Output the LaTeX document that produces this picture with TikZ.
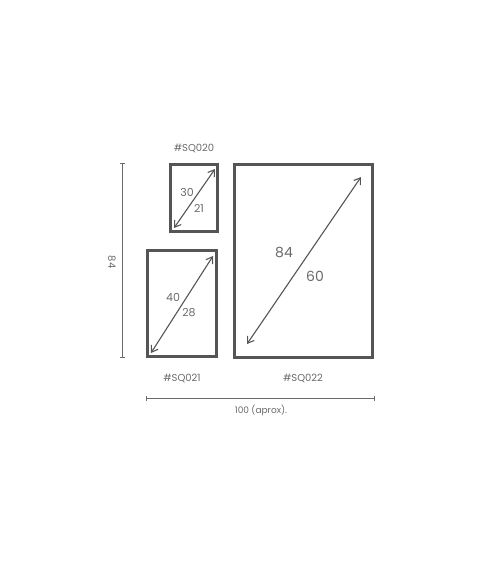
\documentclass[tikz,border=0pt]{standalone}
\usepackage{fontspec}
\setmainfont{Poppins}
\usetikzlibrary{arrows.meta}
\definecolor{boxgray}{HTML}{555555}
\definecolor{txtgray}{HTML}{6A6A6A}
\begin{document}
\begin{tikzpicture}[x=1pt,y=-1pt,
  frame/.style={draw=boxgray,line width=2.8pt,inner sep=0pt,outer sep=0pt},
  diag/.style={draw=boxgray,line width=1.1pt,{Straight Barb[length=6pt,width=8pt]}-{Straight Barb[length=6pt,width=8pt]}},
  dimline/.style={draw=txtgray,line width=0.9pt,{Bar[width=5pt]}-{Bar[width=5pt]}},
  lbl/.style={text=txtgray,font=\fontsize{9}{10}\selectfont,inner sep=0pt},
  namelbl/.style={text=txtgray,font=\fontsize{10}{11}\selectfont,inner sep=0pt},
  num/.style={text=txtgray,font=\fontsize{11}{12}\selectfont,inner sep=0pt},
  bignum/.style={text=txtgray,font=\fontsize{14}{16}\selectfont,inner sep=0pt}]
\useasboundingbox (0,0) rectangle (500,563);
% frames
\node[frame,minimum width=47pt,minimum height=67pt] (b20) at (194,198) {};
\node[frame,minimum width=69pt,minimum height=106pt] (b21) at (182,303.5) {};
\node[frame,minimum width=138pt,minimum height=193pt] (b22) at (303.5,261) {};
% arrow ends
\coordinate (a20s) at (174,228); \coordinate (a20e) at (215,169);
\coordinate (a21s) at (151,353); \coordinate (a21e) at (213,256);
\coordinate (a22s) at (247,344); \coordinate (a22e) at (361,177);
\draw[diag] (a20s) -- (a20e);
\draw[diag] (a21s) -- (a21e);
\draw[diag] (a22s) -- (a22e);
% size labels
\node[num] (t30) at (187,192) {30};
\node[num] (t21) at (199,208) {21};
\node[num] (t40) at (173,297) {40};
\node[num] (t28) at (189,313) {28};
\node[bignum] (t84) at (284,252) {84};
\node[bignum] (t60) at (315,276) {60};
% names
\node[namelbl] (n20) at (194,148) {\#SQ020};
\node[namelbl] (n21) at (182,378) {\#SQ021};
\node[namelbl] (n22) at (303,378) {\#SQ022};
% dimension lines
\coordinate (v1) at (122,163); \coordinate (v2) at (122,358);
\draw[dimline] (v1) -- (v2);
\node[namelbl,rotate=-90] (h84) at (112,262) {84};
\coordinate (h1) at (146,398); \coordinate (h2) at (375,398);
\draw[dimline] (h1) -- (h2);
\node[lbl] (w100) at (261,410) {100 (aprox).};
\end{tikzpicture}
\end{document}
